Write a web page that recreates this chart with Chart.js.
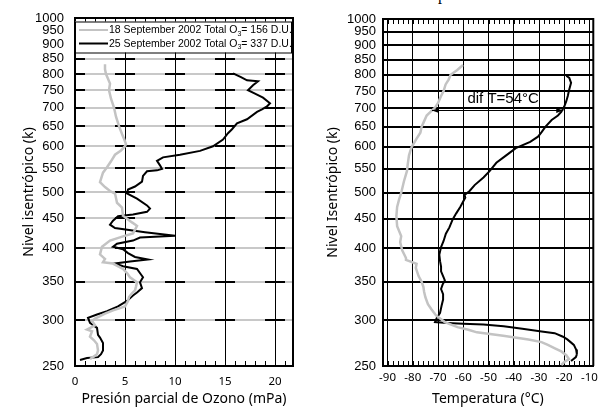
<!DOCTYPE html>
<html><head><meta charset="utf-8">
<script src="https://cdn.jsdelivr.net/npm/chart.js@4"></script>
<style>
html,body{margin:0;padding:0;background:#fff;width:603px;height:407px;overflow:hidden;position:relative}
canvas{position:absolute;top:0}
#c1{left:0}
#c2{left:300px}
#frag{position:absolute;left:438px;top:-14px;font:16px "Liberation Serif";color:#000;line-height:18px}
</style></head><body>
<div id="frag">p</div>
<canvas id="c1" width="300" height="407"></canvas>
<canvas id="c2" width="303" height="407"></canvas>
<script>
// ---- tick labels ----
const thetaTicks = [250,300,350,400,450,500,550,600,650,700,750,800,850,900,950,1000];
const ozoneTicks = [0,5,10,15,20];
const ozoneMinor = [0,1,2,3,4,5,6,7,8,9,10,11,12,13,14,15,16,17,18,19,20,21];
const tempTicks = [-90,-80,-70,-60,-50,-40,-30,-20,-10];
const tempMinor = [-90,-88,-86,-84,-82,-80,-78,-76,-74,-72,-70,-68,-66,-64,-62,-60,-58,-56,-54,-52,-50,-48,-46,-44,-42,-40,-38,-36,-34,-32,-30,-28,-26,-24,-22,-20,-18,-16,-14,-12,-10];
const legendLabels = ['18 September 2002 Total O', '25 September 2002 Total O'];
const legendTails = ['= 156 D.U.', '= 337 D.U.'];

// ---- 18 September 2002: ozone ----
const sep18OzTheta = [832,815,800,785,770,750,725,700,675,650,630,618,605,600,590,580,565,552,540,520,510,502,497,488,479,470,455,443,437,430,424,419,412,402,390,383,378,376,368,362,356,349,343,338,334,329,324,317,312,308,305,302,299,294,289,287,284,281,277,273,266,262,259,257];
const sep18Oz = [3.0,3.0,3.1,3.3,3.5,3.4,3.6,3.9,4.1,4.4,4.7,4.9,5.1,5.0,4.6,4.0,3.6,3.2,2.8,2.5,3.0,3.5,4.0,4.1,4.2,4.7,4.8,5.7,6.2,6.0,5.8,4.8,3.5,2.7,2.5,3.0,2.8,3.8,4.8,5.2,5.5,6.2,6.1,6.0,5.7,5.4,5.3,5.0,3.8,3.0,2.5,2.0,1.7,2.0,1.2,1.7,1.6,1.5,1.9,2.2,2.3,2.2,1.8,1.5];
// ---- 25 September 2002: ozone ----
const sep25OzTheta = [802,790,780,777,765,750,740,728,712,703,695,688,668,657,642,632,616,600,589,580,574,566,556,548,545,543,533,521,511,505,497,487,474,468,462,457,454,446,439,433,426,420,417,412,407,402,398,392,386,382,379,376,372,368,360,356,349,341,335,331,324,317,311,307,303,297,291,283,280,274,266,262,259,258,256];
const sep25Oz = [15.8,16.6,17.2,18.3,17.8,17.3,18.0,18.8,19.5,19.2,18.7,18.2,17.2,16.2,15.7,15.3,14.8,13.8,12.5,10.5,8.8,8.2,8.5,8.7,8.2,7.2,6.8,6.7,6.0,5.3,5.2,6.2,7.2,7.5,7.2,5.8,4.3,3.8,3.5,4.0,7.0,10.0,6.5,5.8,4.2,3.8,4.8,5.3,6.0,7.3,5.5,4.0,4.8,6.2,6.6,6.8,6.5,6.7,6.2,5.8,5.2,4.3,3.2,2.2,1.3,1.5,2.2,2.3,2.5,2.8,2.8,2.6,2.3,1.2,0.5];

// ---- 18 September 2002: temperature ----
const sep18TTheta = [832,815,800,785,770,750,735,715,702,690,680,665,650,635,620,600,590,580,560,545,523,499,485,472,455,437,420,410,397,385,382,376,370,358,350,343,336,329,320,314,306,298,292,289,286,282,278,275,272,268,265,261,257,254,251];
const sep18T = [-60.1,-62.5,-65,-65.8,-67,-67.8,-68.8,-70,-71.2,-73,-74.5,-75.5,-76.5,-77,-78.5,-80.4,-81,-81.5,-82,-82.3,-83.5,-84.6,-85.5,-86.2,-86.5,-86.2,-84.6,-85,-84.2,-82.7,-82.7,-78.5,-78.8,-77.7,-76.5,-75.8,-75.5,-75,-74,-72.7,-70.8,-67.3,-62.3,-58,-54.6,-44.2,-34.2,-29,-26.5,-23.5,-21.2,-19.2,-18.1,-20,-21.2];
// ---- 25 September 2002: temperature ----
const sep25TTheta = [797,790,775,752,735,720,705,690,680,668,650,637,625,612,597,580,563,545,531,515,503,499,495,490,480,472,460,449,435,424,412,402,390,380,372,365,358,352,346,340,333,326,318,309,303,298,297,296,295,293,290,287,285,281,278,275,272,267,262,259,255];
const sep25T = [-19.2,-18,-17.3,-18.1,-18.6,-19.2,-20,-21.2,-22.5,-25,-27.5,-28.9,-30.4,-33.5,-39.2,-43,-46.9,-49.5,-52,-55.5,-57.5,-58.5,-59.5,-59.2,-60.3,-61.2,-62.8,-64.2,-65.5,-66.9,-67.8,-68.8,-69.5,-69.2,-68.8,-68.8,-68,-67.3,-68.2,-68.8,-68,-68,-68.6,-69.2,-70.5,-71.2,-66.2,-60,-52,-44,-36.6,-29,-23.8,-20.5,-18.8,-17.5,-16.2,-15.3,-15,-15.4,-17.3];

// ---- annotation (dif T) ----
const difArrowT = [-72.4, -20.4];
const difArrowTheta = 695;
const difLabel = 'dif T=54°C';
const difLabelPos = [-44.2, 726];

const pts = (th, v) => th.map((t, i) => ({x: v[i], y: t}));
const setTicks = list => s => { s.ticks = list.map(v => ({value: v})); };
const TICKF = () => ({family: '"Liberation Sans", Arial, sans-serif', size: 13});
const XF = () => ({family: '"Noto Sans", sans-serif', size: 11.5});
const TF = () => ({family: '"Noto Sans", sans-serif', size: 14});
const GRAY = '#c3c3c3';

function lineDs(label, data, color, w) {
  return {label, data, borderColor: color, backgroundColor: color, borderWidth: w,
    pointRadius: 0, fill: false, tension: 0, xAxisID: 'x', yAxisID: 'y'};
}

// frame (top/right borders) and minor tick marks, positioned through the chart's scales
function drawFrameAndMinor(chart, minorList) {
  const {ctx, chartArea: a} = chart; const x = chart.scales.x;
  ctx.save();
  ctx.setLineDash([]);
  ctx.strokeStyle = '#000'; ctx.lineWidth = 1;
  ctx.beginPath();
  minorList.forEach(v => {
    const px = Math.round(x.getPixelForValue(v)) + 0.5;
    ctx.moveTo(px, a.bottom); ctx.lineTo(px, a.bottom - 5);
    ctx.moveTo(px, a.top); ctx.lineTo(px, a.top + 5);
  });
  ctx.stroke();
  ctx.lineWidth = 2;
  ctx.beginPath();
  ctx.moveTo(a.left, a.top); ctx.lineTo(a.right, a.top); ctx.lineTo(a.right, a.bottom);
  ctx.stroke();
  ctx.restore();
}

const ozoneGridPlugin = {
  id: 'ozGrid',
  beforeDatasetsDraw(chart) {
    const {ctx, chartArea: a} = chart; const y = chart.scales.y;
    ctx.save();
    thetaTicks.forEach(t => {
      if (t === 250 || t === 1000) return;
      const yy = Math.round(y.getPixelForValue(t));
      ctx.setLineDash([]); ctx.strokeStyle = '#c8c8c8'; ctx.lineWidth = 2;
      ctx.beginPath(); ctx.moveTo(a.left, yy); ctx.lineTo(a.right, yy); ctx.stroke();
      ctx.setLineDash([20, 30]); ctx.lineDashOffset = 10; ctx.strokeStyle = '#000';
      ctx.beginPath(); ctx.moveTo(a.left, yy); ctx.lineTo(a.right, yy); ctx.stroke();
    });
    ctx.restore();
    drawFrameAndMinor(chart, ozoneMinor);
  }
};

const tempGridPlugin = {
  id: 'tGrid',
  beforeDatasetsDraw(chart) { drawFrameAndMinor(chart, tempMinor); }
};

const legendPlugin = {
  id: 'o3legend',
  afterDatasetsDraw(chart) {
    const {ctx, chartArea: a} = chart;
    ctx.save();
    const x0 = a.left, y0 = a.top + 3.5, w = a.right - a.left - 1, h = 31;
    ctx.fillStyle = '#fff';
    ctx.fillRect(x0, y0, w, h);
    ctx.strokeStyle = '#000'; ctx.lineWidth = 1;
    ctx.strokeRect(x0 + 0.5, y0 + 0.5, w - 1, h);
    const colors = [GRAY, '#000'];
    for (let i = 0; i < 2; i++) {
      const yy = y0 + 8.5 + i * 13.5;
      ctx.strokeStyle = colors[i]; ctx.lineWidth = 2;
      ctx.beginPath(); ctx.moveTo(x0 + 4, yy); ctx.lineTo(x0 + 33, yy); ctx.stroke();
      ctx.fillStyle = '#000';
      ctx.textBaseline = 'middle'; ctx.textAlign = 'left';
      ctx.font = '10.5px "Liberation Sans", Arial, sans-serif';
      let tx = x0 + 34;
      ctx.fillText(legendLabels[i], tx, yy + 0.5);
      tx += ctx.measureText(legendLabels[i]).width;
      ctx.font = '7px "Liberation Sans", Arial, sans-serif';
      ctx.fillText('3', tx, yy + 4);
      tx += ctx.measureText('3').width;
      ctx.font = '10.5px "Liberation Sans", Arial, sans-serif';
      ctx.fillText(legendTails[i], tx, yy + 0.5);
    }
    ctx.restore();
  }
};

const difPlugin = {
  id: 'difT',
  afterDatasetsDraw(chart) {
    const {ctx} = chart; const x = chart.scales.x, y = chart.scales.y;
    const xl = x.getPixelForValue(difArrowT[0]), xr = x.getPixelForValue(difArrowT[1]);
    const ya = Math.round(y.getPixelForValue(difArrowTheta)) + 0.5;
    ctx.save();
    ctx.strokeStyle = '#000'; ctx.fillStyle = '#000'; ctx.lineWidth = 1;
    ctx.beginPath(); ctx.moveTo(xl, ya); ctx.lineTo(xr, ya); ctx.stroke();
    ctx.beginPath(); ctx.moveTo(xl, ya); ctx.lineTo(xl + 7, ya - 2.5); ctx.lineTo(xl + 7, ya + 2.5); ctx.closePath(); ctx.fill();
    ctx.beginPath(); ctx.moveTo(xr, ya); ctx.lineTo(xr - 7, ya - 2.5); ctx.lineTo(xr - 7, ya + 2.5); ctx.closePath(); ctx.fill();
    ctx.font = '15px "Liberation Sans", Arial, sans-serif';
    ctx.textAlign = 'center'; ctx.textBaseline = 'middle';
    ctx.fillText(difLabel, x.getPixelForValue(difLabelPos[0]), y.getPixelForValue(difLabelPos[1]));
    ctx.restore();
  }
};

const common = () => ({
  responsive: false, animation: false, devicePixelRatio: 1,
  plugins: {legend: {display: false}, tooltip: {enabled: false}}
});

// ---------- LEFT: ozone ----------
const ch1 = new Chart(document.getElementById('c1'), {
  type: 'line',
  data: {datasets: [
    lineDs('18 September 2002', pts(sep18OzTheta, sep18Oz), GRAY, 2.5),
    lineDs('25 September 2002', pts(sep25OzTheta, sep25Oz), '#000', 2)
  ]},
  options: Object.assign(common(), {
    layout: {padding: {left: 0, right: 7, top: 18, bottom: 0}},
    scales: {
      x: {type: 'linear', position: 'bottom', min: 0, max: 21.8,
        afterBuildTicks: setTicks(ozoneTicks),
        afterFit: s => { s.height = 41; },
        ticks: {autoSkip: false, maxRotation: 0, font: XF(), color: '#000', padding: 9},
        grid: {drawTicks: false, lineWidth: 1, color: '#000'},
        border: {display: true, color: '#000', width: 2},
        title: {display: true, text: 'Presión parcial de Ozono (mPa)', font: TF(), color: '#000', padding: {top: 0, bottom: 0}}},
      y: {type: 'logarithmic', position: 'left', min: 250, max: 1000,
        afterBuildTicks: setTicks(thetaTicks),
        afterFit: s => { s.width = 75; },
        ticks: {autoSkip: false, font: TICKF(), color: '#000', padding: 3, callback: v => String(v)},
        grid: {display: false},
        border: {display: true, color: '#000', width: 2},
        title: {display: true, text: 'Nivel isentrópico (k)', font: TF(), color: '#000', padding: {top: 20.6, bottom: 0}}}
    }
  }),
  plugins: [ozoneGridPlugin, legendPlugin]
});

// ---------- RIGHT: temperature ----------
const ch2 = new Chart(document.getElementById('c2'), {
  type: 'line',
  data: {datasets: [
    lineDs('18 September 2002', pts(sep18TTheta, sep18T), GRAY, 2.5),
    lineDs('25 September 2002', pts(sep25TTheta, sep25T), '#000', 2)
  ]},
  options: Object.assign(common(), {
    layout: {padding: {left: 0, right: 4, top: 19, bottom: 0}},
    scales: {
      x: {type: 'linear', position: 'bottom', min: -92, max: -8.5,
        afterBuildTicks: setTicks(tempTicks),
        afterFit: s => { s.height = 41; },
        ticks: {autoSkip: false, maxRotation: 0, font: XF(), color: '#000', padding: 5},
        grid: {drawTicks: false, lineWidth: 1, color: '#000'},
        border: {display: true, color: '#000', width: 2},
        title: {display: true, text: 'Temperatura (°C)', font: TF(), color: '#000', padding: {top: 0, bottom: 0}}},
      y: {type: 'logarithmic', position: 'left', min: 250, max: 1000,
        afterBuildTicks: setTicks(thetaTicks),
        afterFit: s => { s.width = 82.5; },
        ticks: {autoSkip: false, font: TICKF(), color: '#000', padding: 6.5, callback: v => String(v)},
        grid: {color: '#000', lineWidth: 2, drawTicks: false},
        border: {display: true, color: '#000', width: 2},
        title: {display: true, text: 'Nivel Isentrópico (k)', font: TF(), color: '#000', padding: {top: 24.6, bottom: 0}}}
    }
  }),
  plugins: [tempGridPlugin, difPlugin]
});
</script>
</body></html>
